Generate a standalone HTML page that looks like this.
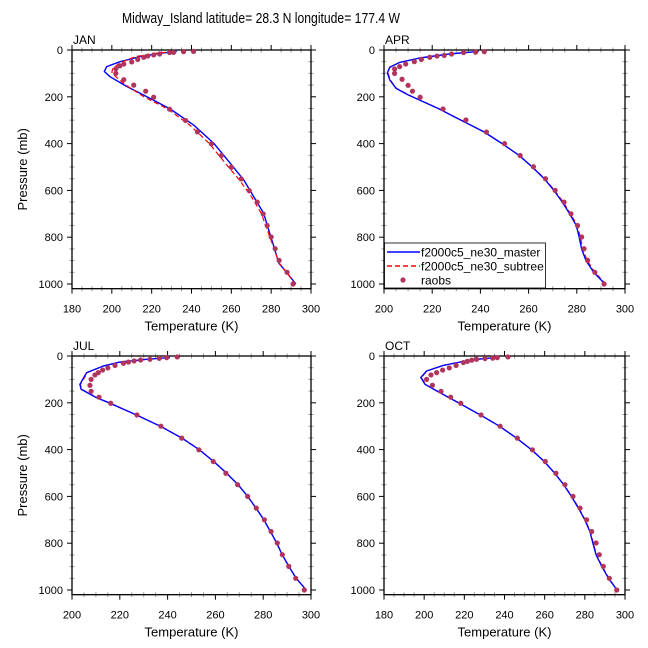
<!DOCTYPE html>
<html><head><meta charset="utf-8"><style>body{margin:0;background:#fff}svg{display:block;font-family:"Liberation Sans",sans-serif}</style></head>
<body>
<svg id="chart" width="648" height="648" viewBox="0 0 648 648">
<text x="261" y="23" font-size="15" text-anchor="middle" textLength="278" lengthAdjust="spacingAndGlyphs">Midway_Island  latitude= 28.3 N longitude= 177.4 W</text>
</svg>
<script>
const months = ["JAN","APR","JUL","OCT"];
const xMins = [180,200,200,180];
const xMax = 300;
const pTicks = [0,200,400,600,800,1000];
const janObs = [[241,6],[236,7],[231,10],[229,11],[224,17],[221,21],[218,26],[216,31],[213,40],[210,51],[206,60],[204,68],[202,80],[202,100],[206,127],[211,150],[217,176],[221,202],[229,253],[237,301],[243,350],[250,401],[255,451],[260,501],[265,551],[269,601],[273,650],[276,700],[278,750],[280,799],[282,849],[284,899],[288,950],[291,1000]];
const janMaster = [[232.6,6],[224.2,14],[214.2,28],[204.1,50],[197.4,71],[196.2,92],[199.1,114],[207.5,156],[217.5,199],[229.3,252],[241,320],[251.1,398],[259.5,484],[266.2,555],[271.2,626],[276.2,697],[278.7,768],[281.3,839],[283.8,910],[288,953],[292.4,1000]];
const janSubtree = [[231,7],[222,14],[212,28],[204,55],[200.5,80],[200,95],[202,114],[207,150],[216,199],[228,252],[239,320],[249,400],[257,484],[264,555],[270,626],[275,697],[278,768],[281,839],[284,910],[288,953],[292,1000]];
const aprObs = [[241.6,7],[238,9],[233,11],[228,17],[225,23],[222,26],[219,31],[215.5,40],[212.6,50],[209,60],[206.5,71],[204.4,81],[204.4,100],[207.5,125],[210,151],[211.8,176],[215,202],[224.5,252],[234,299],[242.5,351],[250,400],[256.5,451],[262,499],[267,550],[271,600],[274.7,650],[277.6,700],[280.3,750],[282,799],[283,849],[284.5,899],[287.5,950],[291.3,1000]];
const aprMaster = [[239.3,6],[227,17],[214.8,34],[206.5,53],[202.4,74],[201.4,97],[202.4,128],[205,164],[210,192],[222.5,250],[232,300],[241.5,350],[249,400],[256,450],[261.5,500],[266.5,550],[270.5,600],[274,650],[277,700],[279.8,750],[281,800],[282,850],[283.8,900],[287,950],[291.7,1000]];
const aprSubtree = [[239,6],[227,17],[214.8,34],[206.5,53],[202.4,74],[201.6,97],[202.6,128],[205.2,164],[210.2,192],[222.6,250],[232,300],[241.5,350],[249,400],[256,450],[261.6,500],[266.7,550],[270.8,600],[274.4,650],[277.4,700],[280.2,750],[281.5,800],[282.5,850],[284.3,900],[287.5,950],[292,1000]];
const julObs = [[244,4],[239.6,7],[236.5,10],[232.6,14],[228.7,17],[226,21],[223.6,26],[221.5,31],[218,40],[215,51],[212.8,60],[211,71],[209.6,81],[208,100],[207.5,125],[208,151],[211.3,176],[216.2,202],[227.2,252],[237.2,300],[245.9,351],[253.1,401],[259.1,451],[264.4,501],[269.3,550],[273.5,600],[277.1,650],[280.5,700],[283.3,750],[285.9,799],[288,849],[290.7,899],[293.6,950],[297.2,1000]];
const julMaster = [[241,7],[231.2,14],[220,26],[213,43],[206.1,71],[203.3,121],[203.8,142],[210.3,178],[216,202],[227,252],[237,300],[246,351],[253.3,401],[259.3,451],[264.7,501],[269.5,550],[273.5,600],[277,650],[280.3,700],[283,750],[285.7,800],[288,850],[290.8,900],[293.8,950],[298,1000]];
const julSubtree = [[241,7],[231,14],[220,26],[213,43],[206.5,71],[203.5,121],[204,142],[210.5,178],[216,202],[227,252],[237,300],[246,351],[253.3,401],[259.3,451],[264.7,501],[269.5,550],[273.5,600],[277,650],[280.3,700],[283,750],[285.7,800],[288,850],[290.8,900],[293.8,950],[298,1000]];
const octObs = [[241.7,4],[236.4,7],[234.1,9],[230.3,11],[226.1,14],[223.7,18],[221.5,23],[219.5,28],[215.9,40],[212.5,51],[209.2,60],[206.2,71],[203.4,81],[201.2,100],[204.1,125],[208.4,151],[213.2,176],[218.2,202],[228.3,252],[237.8,300],[246.4,351],[253.9,401],[260.3,451],[265.6,501],[270.1,550],[274.1,600],[277.6,650],[280.9,700],[283.4,750],[285.6,799],[287.2,849],[289.2,899],[292.2,950],[295.9,1000]];
const octMaster = [[235.8,6],[222.8,17],[209.5,40],[201.2,64],[198.3,92],[200.4,121],[206.2,149],[217.5,202],[228,252],[237.5,300],[246,351],[253.5,401],[259.8,451],[265,501],[269.5,550],[273.3,600],[276.8,650],[280,700],[282.5,750],[284,800],[285.6,850],[288.5,900],[291.8,950],[296,1000]];
const octSubtree = [[235.6,6],[222.8,17],[209.5,40],[201.4,64],[198.6,92],[200.6,121],[206.4,149],[217.6,202],[228,252],[237.5,300],[246,351],[253.5,401],[259.8,451],[265,501],[269.6,550],[273.5,600],[277,650],[280.2,700],[282.7,750],[284.2,800],[285.8,850],[288.7,900],[292,950],[296,1000]];
const obsSets = [janObs,aprObs,julObs,octObs];
const masterSets = [janMaster,aprMaster,julMaster,octMaster];
const subtreeSets = [janSubtree,aprSubtree,julSubtree,octSubtree];

const NS="http://www.w3.org/2000/svg";
const svg=document.getElementById('chart');
function mk(tag,attrs,parent){const e=document.createElementNS(NS,tag);for(const k in attrs)e.setAttribute(k,attrs[k]);(parent||svg).appendChild(e);return e;}
const panels=[{x0:72,x1:311,y0:50},{x0:384,x1:625,y0:50},{x0:72,x1:311,y0:356},{x0:384,x1:625,y0:356}];
panels.forEach((pn,i)=>{
  const g=mk('g',{});
  
  
  const xmin=xMins[i];
  const sx=t=>pn.x0+(t-xmin)/(xMax-xmin)*(pn.x1-pn.x0);
  const sy=p=>pn.y0+p*0.234;
  const yb=sy(1020);
  for(let t=xmin;t<=xMax;t+=5){const X=sx(t);const major=(t%20===0);
    const L=major?5:2.5;const c=major?'#000':'#999';
    mk('line',{x1:X,x2:X,y1:pn.y0-L,y2:pn.y0+(major?0:L),stroke:c,'stroke-width':1},g);
    mk('line',{x1:X,x2:X,y1:yb-(major?0:L),y2:yb+L,stroke:c,'stroke-width':1},g);}
  for(let p=0;p<=1000;p+=50){const Y=sy(p);const major=(p%200===0);
    const L=major?5:2.5;const c=major?'#000':'#999';
    mk('line',{x1:pn.x0-L,x2:pn.x0+(major?0:L),y1:Y,y2:Y,stroke:c,'stroke-width':1},g);
    mk('line',{x1:pn.x1-(major?0:L),x2:pn.x1+L,y1:Y,y2:Y,stroke:c,'stroke-width':1},g);}
  const frame=mk('rect',{x:pn.x0,y:pn.y0,width:pn.x1-pn.x0,height:yb-pn.y0,fill:'none',stroke:'#000','stroke-width':1.3},g);
  
  
  for(let t=xmin;t<=xMax;t+=20){const tx=mk('text',{x:sx(t),y:yb+24,'font-size':11,'text-anchor':'middle'},g);tx.textContent=t;
    
    }
  pTicks.forEach(p=>{const tx=mk('text',{x:pn.x0-9,y:sy(p)+4,'font-size':11,'text-anchor':'end'},g);tx.textContent=p;
    
    });
  const xt=mk('text',{x:(pn.x0+pn.x1)/2,y:yb+42,'font-size':13,'text-anchor':'middle'},g);xt.textContent='Temperature (K)';
  
  
  if(i%2===0){const yt=mk('text',{x:0,y:0,'font-size':13,'text-anchor':'middle',transform:`translate(27,${(pn.y0+yb)/2}) rotate(-90)`},g);yt.textContent='Pressure (mb)';
    
    }
  const mt=mk('text',{x:pn.x0+1,y:pn.y0-6,'font-size':12},g);mt.textContent=months[i];
  
  
  const pts=a=>a.map(d=>sx(d[0]).toFixed(1)+','+sy(d[1]).toFixed(1)).join(' ');
  const bl=mk('polyline',{points:pts(masterSets[i]),fill:'none',stroke:'#0000ff','stroke-width':1.4,'stroke-linejoin':'round'},g);
  
  
  const rl=mk('polyline',{points:pts(subtreeSets[i]),fill:'none',stroke:'#ff0000','stroke-width':1.2,'stroke-dasharray':'5,3'},g);
  
  
  if(i!==0){g.appendChild(bl);}
  obsSets[i].forEach(d=>{const c=mk('circle',{cx:sx(d[0]),cy:sy(d[1]),r:2.6,fill:'#b0345c'},g);
    
    });
});
const lg=mk('g',{});


mk('rect',{x:384.5,y:243,width:161,height:45,fill:'#fff',stroke:'#000','stroke-width':0.8},lg);
const entries=[['f2000c5_ne30_master','line','#0000ff',''],['f2000c5_ne30_subtree','line','#ff0000','5,3'],['raobs','dot','#b0345c','']];
entries.forEach((e,k)=>{const y=252+k*14;
  const eg=mk('g',{},lg);
  
  
  if(e[1]==='line')mk('line',{x1:387,x2:420,y1:y,y2:y,stroke:e[2],'stroke-width':1.4,'stroke-dasharray':e[3]||'none'},eg);
  else mk('circle',{cx:403,cy:y,r:2.6,fill:e[2]},eg);
  const t=mk('text',{x:421,y:y+4.5,'font-size':12},eg);t.textContent=e[0];});
</script>
</body></html>
